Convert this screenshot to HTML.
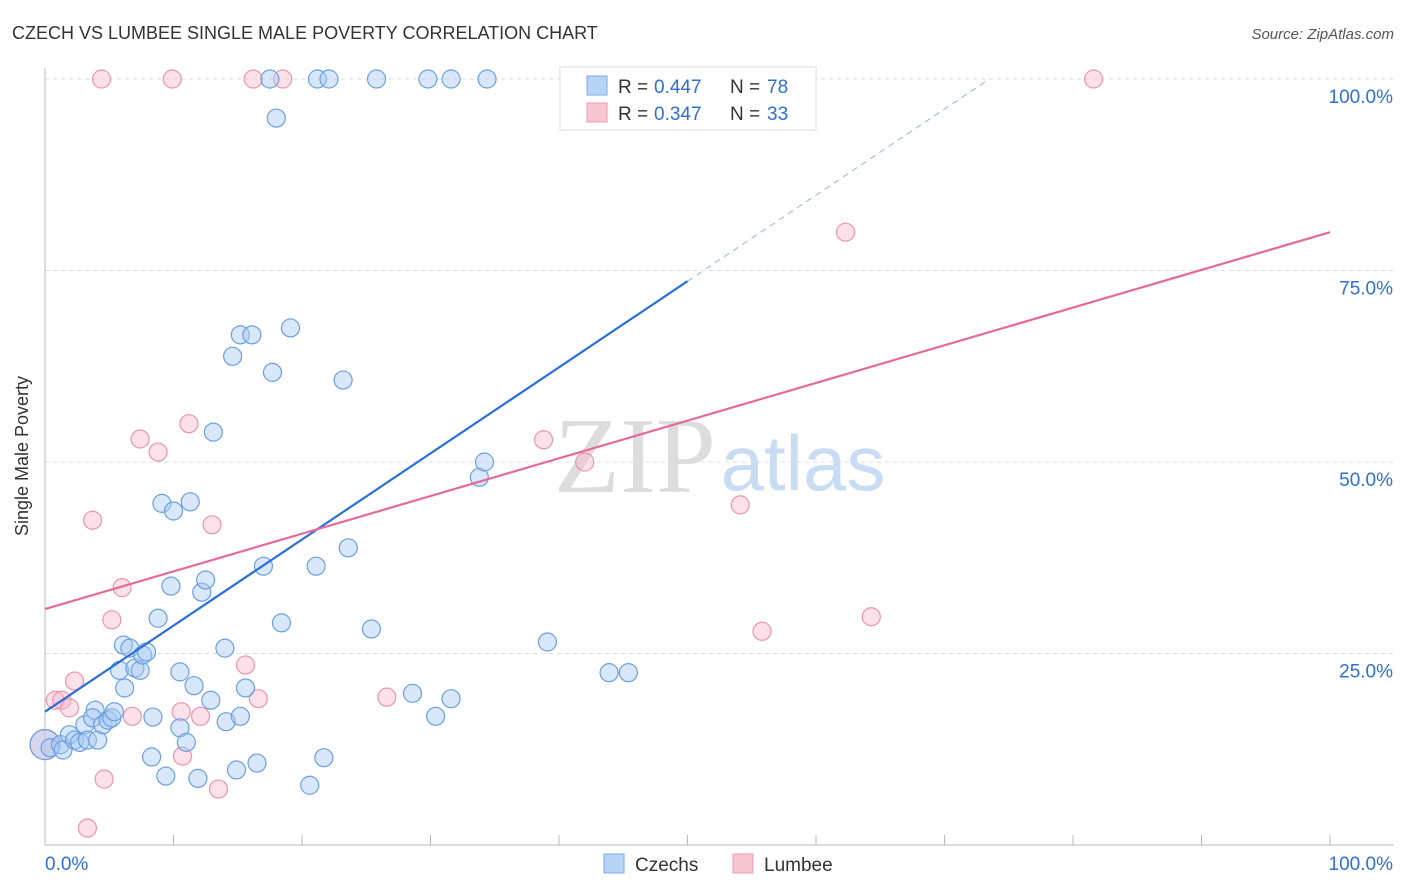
<!DOCTYPE html>
<html><head><meta charset="utf-8"><style>
body{margin:0;background:#fff;font-family:"Liberation Sans",sans-serif;}
svg{display:block}
</style></head><body>
<svg id="chart" width="1406" height="892">
<text x="12" y="39" font-size="18" fill="#333">CZECH VS LUMBEE SINGLE MALE POVERTY CORRELATION CHART</text>
<text x="1394" y="39" font-size="15" fill="#555" font-style="italic" text-anchor="end">Source: ZipAtlas.com</text>
<g>
<text x="635" y="492" font-size="108" font-family="Liberation Serif,serif" fill="#ddd" text-anchor="middle">ZIP</text>
<text x="803" y="490" font-size="78" fill="#c8dcf4" text-anchor="middle">atlas</text>
</g>
<g id="grid"></g>
<g id="axes"></g>
<g id="pts"></g>
<g id="lines"></g>
<text x="28" y="456" font-size="18" fill="#333" transform="rotate(-90 28 456)" text-anchor="middle">Single Male Poverty</text>
<g>
<rect x="560" y="67" width="256" height="63" fill="#fff" stroke="#ddd"/>
<rect x="587" y="76" width="20" height="19" fill="#b8d4f4" stroke="#7aaae6"/>
<rect x="587" y="103" width="20" height="19" fill="#f9c6d6" stroke="#ee9ab4"/>
<text x="618" y="93" font-size="19" fill="#333">R =</text><text x="654" y="93" font-size="19" fill="#2f6fd6">0.447</text>
<text x="730" y="93" font-size="19" fill="#333">N =</text><text x="767" y="93" font-size="19" fill="#2f6fd6">78</text>
<text x="618" y="120" font-size="19" fill="#333">R =</text><text x="654" y="120" font-size="19" fill="#2f6fd6">0.347</text>
<text x="730" y="120" font-size="19" fill="#333">N =</text><text x="767" y="120" font-size="19" fill="#2f6fd6">33</text>
</g>
<g>
<rect x="604" y="854" width="20" height="19" fill="#b8d4f4" stroke="#7aaae6"/>
<text x="635" y="871" font-size="19" fill="#333">Czechs</text>
<rect x="733" y="854" width="20" height="19" fill="#f9c6d6" stroke="#ee9ab4"/>
<text x="764" y="871" font-size="19" fill="#333">Lumbee</text>
</g>
</svg>
<script>
const czechX=[0,0.4,1.2,1.4,1.9,2.3,2.7,3.1,3.3,3.9,3.7,4.1,4.5,4.9,5.2,5.4,6.1,6.6,5.8,6.2,7.0,7.4,7.6,7.9,8.4,8.3,8.8,9.1,9.4,9.8,10.0,10.5,10.5,11.0,11.3,11.6,11.9,12.2,12.5,12.9,13.1,14.0,14.1,14.6,14.9,15.2,15.2,15.6,16.1,16.5,17.0,17.5,17.7,18.0,18.4,19.1,20.6,21.1,21.2,21.7,22.1,23.2,23.6,25.4,25.8,28.6,29.8,30.4,31.6,31.6,33.8,34.2,34.4,39.1,43.9,45.4];
const czechY=[13.1,12.7,13.1,12.4,14.4,13.7,13.4,15.7,13.7,17.6,16.6,13.7,15.7,16.3,16.6,17.4,26.1,25.7,22.8,20.5,23.1,22.8,24.8,25.2,16.7,11.5,29.6,44.6,9.0,33.8,43.6,22.6,15.3,13.4,44.8,20.8,8.7,33.0,34.6,18.9,53.9,25.7,16.1,63.8,9.8,66.6,16.8,20.5,66.6,10.7,36.4,100,61.7,94.9,29.0,67.5,7.8,36.4,100,11.4,100,60.7,38.8,28.2,100,19.8,100,16.8,100,19.1,48.0,50.0,100,26.5,22.5,22.5];
const lumbeeX=[0,0.8,1.3,1.9,2.3,3.3,3.7,4.4,4.6,5.2,6.0,6.8,7.4,8.8,9.9,10.6,10.7,11.2,12.1,13.0,13.5,15.6,16.2,16.6,18.5,26.6,38.8,42.0,54.1,55.8,62.3,64.3,81.6];
const lumbeeY=[13.1,18.9,18.9,17.9,21.4,2.2,42.4,100,8.6,29.4,33.6,16.8,53.0,51.3,100,17.4,11.6,55.0,16.8,41.8,7.3,23.5,100,19.1,100,19.3,52.9,50.0,44.4,27.9,80.0,29.8,100];
const yTicks=[25,50,75,100];
const xTicks=[0,10,20,30,40,50,60,70,80,90,100];
const czechFit=[17.4,1.124];
const lumbeeFit=[30.8,0.492];
const X0=45,X1=1330,Y0=845,Y1=79;
const sx=v=>X0+(X1-X0)*v/100, sy=v=>Y0-(Y0-Y1)*v/100;
const NS="http://www.w3.org/2000/svg";
function mk(tag,parent,attrs){const e=document.createElementNS(NS,tag);for(const k in attrs)e.setAttribute(k,attrs[k]);parent.appendChild(e);return e;}
const grid=document.getElementById('grid'),axes=document.getElementById('axes');
yTicks.forEach(t=>{
 const l=mk('line',grid,{x1:X0,x2:1394,y1:sy(t),y2:sy(t),stroke:'#ddd','stroke-dasharray':'4,4'});
 
 
 const tx=mk('text',axes,{x:1393,y:sy(t)+24,'font-size':19,fill:'#2f6fd6','text-anchor':'end'});
 tx.textContent=t.toFixed(1)+'%';
 
 
});
mk('line',axes,{x1:X0,x2:X0,y1:68,y2:Y0,stroke:'#bbb'});
mk('line',axes,{x1:X0,x2:1394,y1:Y0,y2:Y0,stroke:'#bbb'});
xTicks.forEach(t=>{
 const l=mk('line',axes,{x1:sx(t),x2:sx(t),y1:Y0-10,y2:Y0,stroke:'#bbb'});
 
 
});
const xl=mk('text',axes,{x:45,y:870,'font-size':19,fill:'#2f6fd6'});xl.textContent='0.0%';


const xr=mk('text',axes,{x:1393,y:870,'font-size':19,fill:'#2f6fd6','text-anchor':'end'});xr.textContent='100.0%';


const pts=document.getElementById('pts');
function drawPts(xs,ys,fill,stroke,name){
 xs.forEach((x,i)=>{
  const c=mk('circle',pts,{cx:sx(x),cy:sy(ys[i]),r:(x===0?15:9),fill:fill,'fill-opacity':0.45,stroke:stroke,'stroke-width':1.2});
  
  
 });
}
drawPts(lumbeeX,lumbeeY,'#f8bccf','#eb94af','lumbee-point');
drawPts(czechX,czechY,'#a9c9f1','#6c9fe2','czech-point');
const lines=document.getElementById('lines');
const bEnd=50, bDashEnd=(100-czechFit[0])/czechFit[1];
const bl=mk('line',lines,{x1:sx(0),y1:sy(czechFit[0]),x2:sx(bEnd),y2:sy(czechFit[0]+czechFit[1]*bEnd),stroke:'#2a6fd8','stroke-width':2.2});


const bd=mk('line',lines,{x1:sx(bEnd),y1:sy(czechFit[0]+czechFit[1]*bEnd),x2:sx(bDashEnd),y2:sy(100),stroke:'#8fb3e6','stroke-width':1,'stroke-dasharray':'6,5'});


const pl=mk('line',lines,{x1:sx(0),y1:sy(lumbeeFit[0]),x2:sx(100),y2:sy(lumbeeFit[0]+lumbeeFit[1]*100),stroke:'#e5699a','stroke-width':2.2});


</script>
</body></html>
